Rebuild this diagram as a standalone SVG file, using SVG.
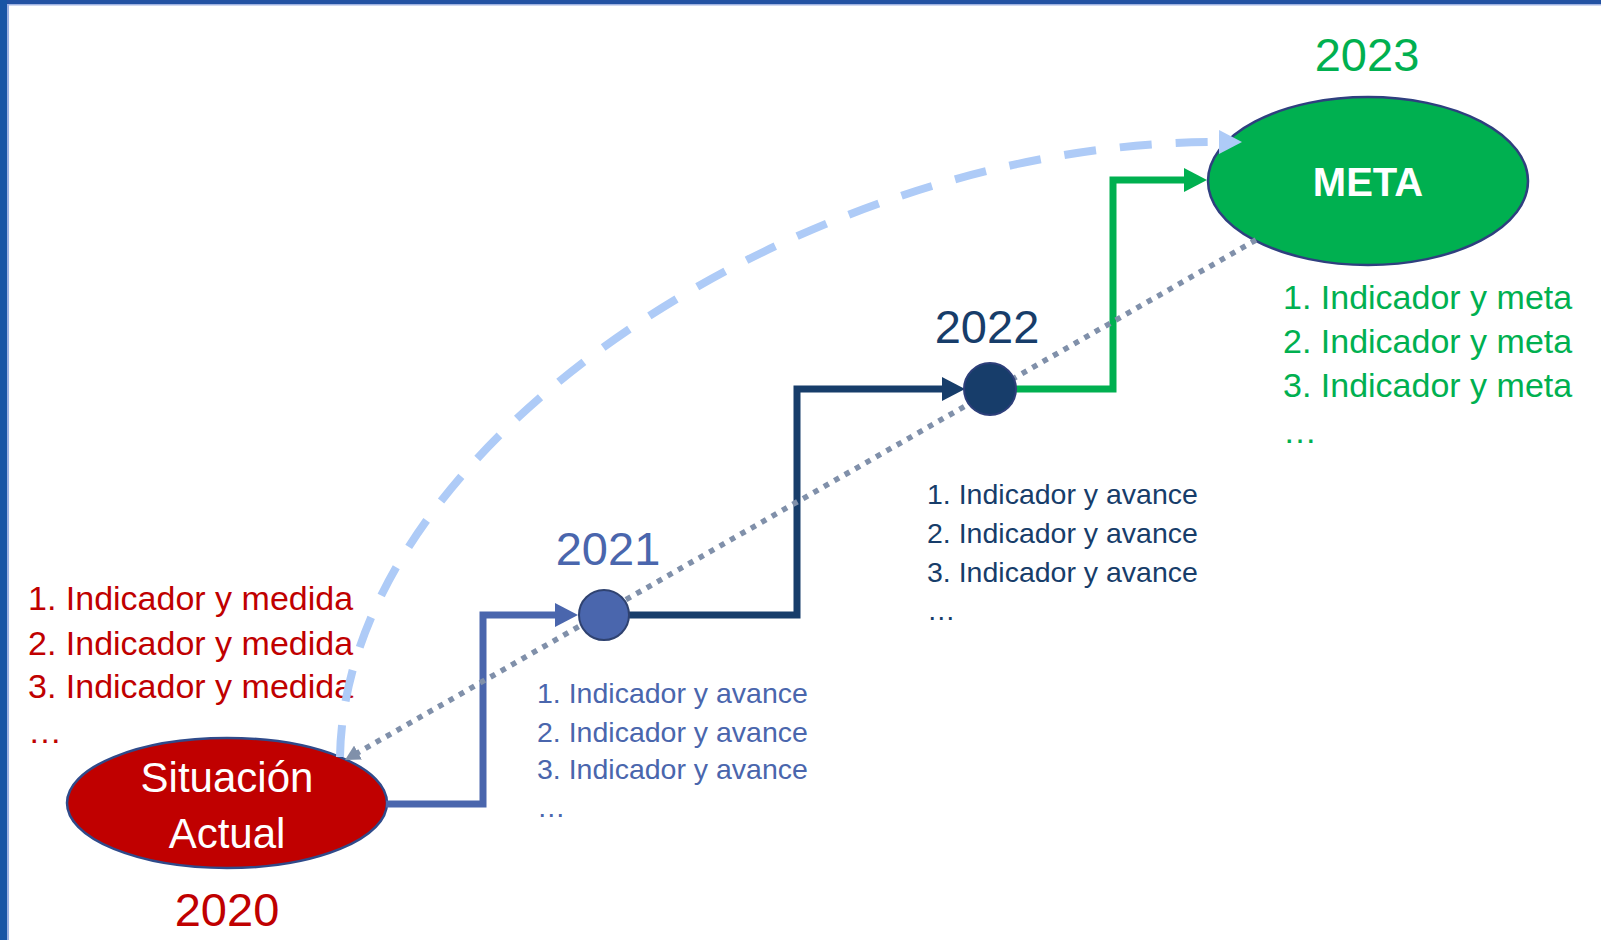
<svg xmlns="http://www.w3.org/2000/svg" width="1601" height="940" viewBox="0 0 1601 940">
  <style>
    .list { font-family: "Liberation Sans", Arial, sans-serif; }
    .year { font-family: "Liberation Sans", Arial, sans-serif; font-size: 47px; text-anchor: middle; }
    .lbl { font-family: "Liberation Sans", Arial, sans-serif; fill: #ffffff; text-anchor: middle; }
    .red { fill: #c00000; }
    .blue { fill: #4a66ad; }
    .navy { fill: #173d6a; }
    .green { fill: #00b050; }
    .conn { fill: none; stroke-width: 7; stroke-linejoin: miter; }
  </style>
  <defs>
    <marker id="arrBlue" markerUnits="userSpaceOnUse" markerWidth="24" markerHeight="24" refX="3" refY="12" orient="auto">
      <path d="M0,0 L23,12 L0,24 z" fill="#4a66ad"/>
    </marker>
    <marker id="arrNavy" markerUnits="userSpaceOnUse" markerWidth="24" markerHeight="24" refX="3" refY="12" orient="auto">
      <path d="M0,0 L23,12 L0,24 z" fill="#173d6a"/>
    </marker>
    <marker id="arrGreen" markerUnits="userSpaceOnUse" markerWidth="24" markerHeight="24" refX="3" refY="12" orient="auto">
      <path d="M0,0 L23,12 L0,24 z" fill="#00b050"/>
    </marker>
    <marker id="arrLight" markerUnits="userSpaceOnUse" markerWidth="24" markerHeight="24" refX="2" refY="12" orient="auto">
      <path d="M0,0 L23,12 L0,24 z" fill="#aecbf7"/>
    </marker>
    <marker id="arrGrey" markerUnits="userSpaceOnUse" markerWidth="16" markerHeight="16" refX="3" refY="8" orient="auto">
      <path d="M0,0 L15,8 L0,16 z" fill="#8090aa"/>
    </marker>
  </defs>

  <rect x="0" y="0" width="1601" height="940" fill="#ffffff"/>
  <!-- frame -->
  <rect x="0" y="0" width="1601" height="4" fill="#2352a3"/>
  <rect x="0" y="4" width="1601" height="1.5" fill="#9fb2e2"/>
  <rect x="0" y="0" width="7" height="940" fill="#1a56a5"/>
  <rect x="7" y="4" width="2" height="936" fill="#9fb2e2"/>

  <g id="list-2020" class="list red" font-size="34">
    <text x="28" y="610">1. Indicador y medida</text>
    <text x="28" y="655">2. Indicador y medida</text>
    <text x="28" y="698">3. Indicador y medida</text>
    <text x="28" y="743">…</text>
  </g>

  <!-- node: Situación Actual -->
  <g id="node-2020">
    <ellipse cx="227" cy="803" rx="160" ry="65" fill="#c00000" stroke="#2f4a8a" stroke-width="2.5"/>
    <text class="lbl" x="227" y="792" font-size="42">Situación</text>
    <text class="lbl" x="227" y="848" font-size="42">Actual</text>
    <text class="year red" x="227" y="926">2020</text>
  </g>

  <!-- node: META -->
  <g id="node-meta">
    <ellipse cx="1368" cy="181" rx="160" ry="84" fill="#00b050" stroke="#2f3f7f" stroke-width="2.5"/>
    <text class="lbl" x="1368" y="196" font-size="40" font-weight="bold">META</text>
    <text class="year green" x="1367" y="71">2023</text>
    <g class="list green" font-size="34">
      <text x="1283" y="309">1. Indicador y meta</text>
      <text x="1283" y="353">2. Indicador y meta</text>
      <text x="1283" y="397">3. Indicador y meta</text>
      <text x="1283" y="443">…</text>
    </g>
  </g>

  <!-- connectors -->
  <g id="connectors">
    <path class="conn" d="M386,804 H483 V615 H558" stroke="#4a66ad" marker-end="url(#arrBlue)"/>
    <path class="conn" d="M629,615 H797 V389 H945" stroke="#173d6a" marker-end="url(#arrNavy)"/>
    <path class="conn" d="M1016,389 H1113 V180 H1187" stroke="#00b050" marker-end="url(#arrGreen)"/>
    <path d="M340,757 C345,440 810,140 1221,142" fill="none" stroke="#aecbf7" stroke-width="8" stroke-dasharray="32 24" marker-end="url(#arrLight)"/>
    <path d="M1256,240 L355.4,754.1" fill="none" stroke="#8090aa" stroke-width="5.5" stroke-dasharray="5.5 6.5" marker-end="url(#arrGrey)"/>
  </g>

  <!-- node: 2021 -->
  <g id="node-2021">
    <circle cx="604" cy="615" r="25" fill="#4a66ad" stroke="#2f4270" stroke-width="2"/>
    <text class="year blue" x="608" y="565">2021</text>
    <g class="list blue" font-size="28.5">
      <text x="537" y="703">1. Indicador y avance</text>
      <text x="537" y="742">2. Indicador y avance</text>
      <text x="537" y="779">3. Indicador y avance</text>
      <text x="537" y="817">…</text>
    </g>
  </g>

  <!-- node: 2022 -->
  <g id="node-2022">
    <circle cx="990" cy="389" r="26" fill="#173d6a" stroke="#2d3f7a" stroke-width="2"/>
    <text class="year navy" x="987" y="343">2022</text>
    <g class="list navy" font-size="28.5">
      <text x="927" y="504">1. Indicador y avance</text>
      <text x="927" y="543">2. Indicador y avance</text>
      <text x="927" y="582">3. Indicador y avance</text>
      <text x="927" y="620">…</text>
    </g>
  </g>
</svg>
